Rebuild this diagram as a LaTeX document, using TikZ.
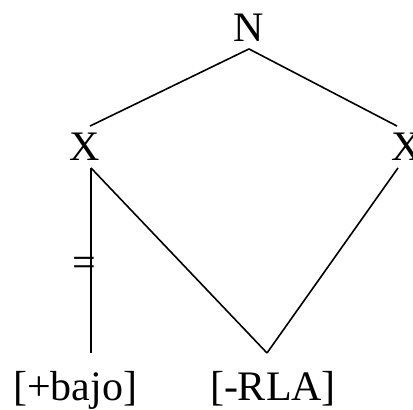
\documentclass[tikz,border=0pt]{standalone}
\usepackage{fontspec}
\setmainfont{Liberation Serif}
\tikzset{
  seg/.style={node font=\fontsize{42}{46}\selectfont, inner sep=7pt},
  branch/.style={line width=1.6pt},
}
\begin{document}
\begin{tikzpicture}[x=1pt, y=-1pt]
            \useasboundingbox (0,0) rectangle (413,410);

            % Nodes of the tree
            \node[seg] (N) at (249,28) {N};
            \node[seg] (X1) at (85,147) {X};
            \node[seg] (X2) at (407,147) {X};

            % Labels at the bottom
            \node[seg, anchor=base] (bajo) at (75,400) {[+bajo]};
            \node[seg, anchor=base] (rla) at (273,400) {[-RLA]};

            % Ends of the lower lines
            \coordinate (stem) at (91,353);
            \coordinate (apex) at (267,353);

            % Upper branches
            \draw[branch] (N.south) -- ([xshift=5pt]X1.north);
            \draw[branch] (N.south) -- ([xshift=-10pt]X2.north);

            % Lower branches
            \draw[branch] ([xshift=6pt]X1.south) -- (stem);
            \draw[branch] ([xshift=6pt]X1.south) -- (apex);
            \draw[branch] ([xshift=-9pt]X2.south) -- (apex);

            % Crossing mark on the stem
            \node[seg, inner sep=0pt] (eq) at (84,267) {=};
        \end{tikzpicture}
\end{document}
